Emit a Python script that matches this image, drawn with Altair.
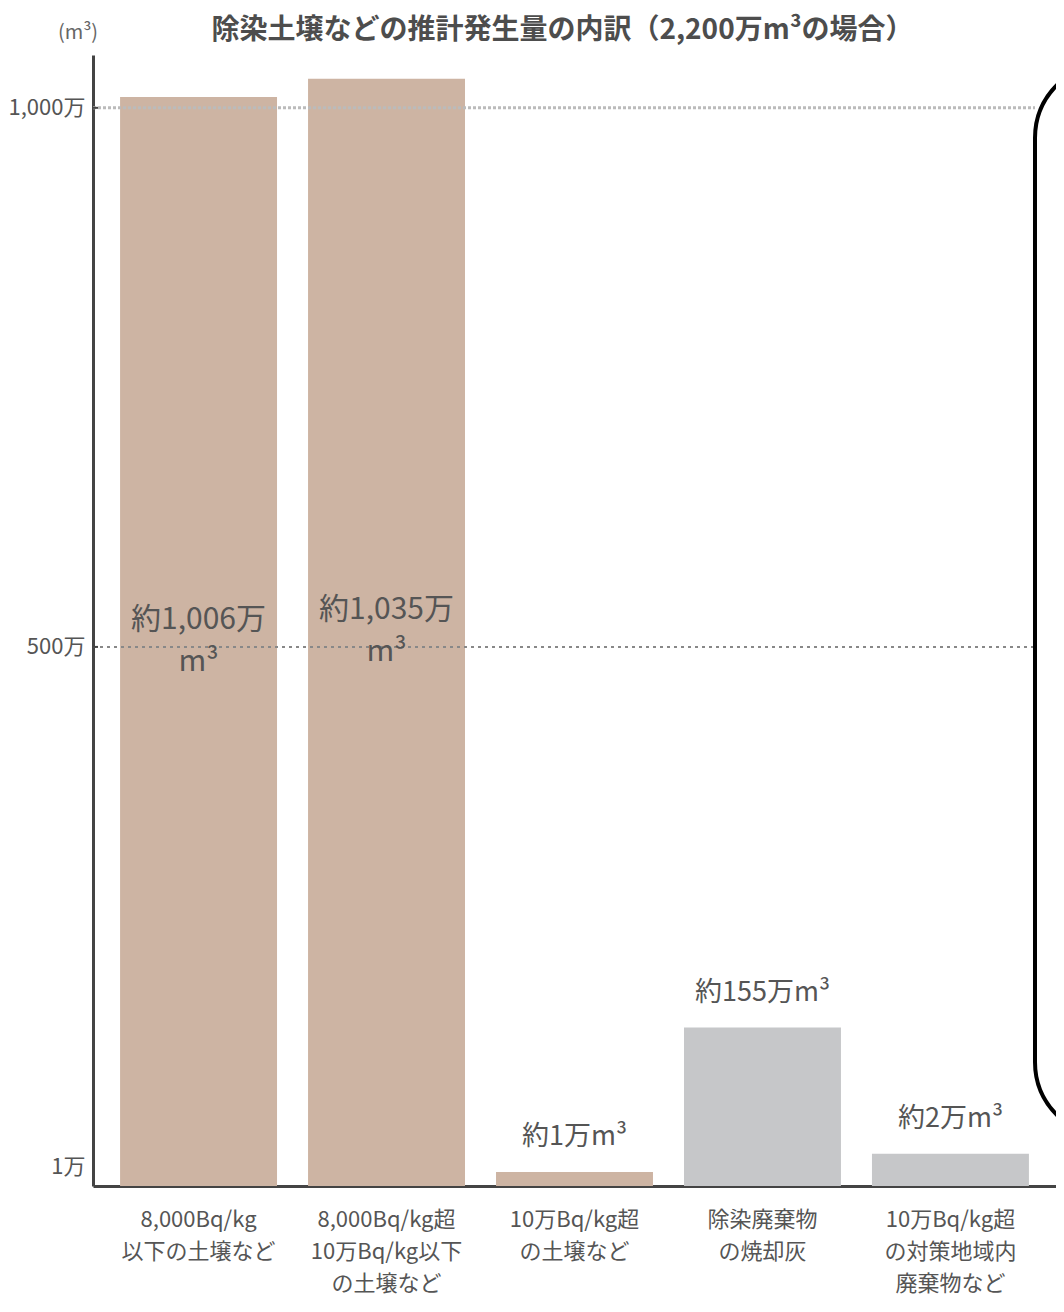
import altair as alt
import pandas as pd

# ---- data ----
categories = [
    "8,000Bq/kg|以下の土壌など",
    "8,000Bq/kg超|10万Bq/kg以下|の土壌など",
    "10万Bq/kg超|の土壌など",
    "除染廃棄物|の焼却灰",
    "10万Bq/kg超|の対策地域内|廃棄物など",
]
# drawn bar heights (万m³, on the chart's scale)
bar_values = [1010, 1027, 13, 147, 30]
value_labels = ["約1,006万|m³", "約1,035万|m³", "約1万m³", "約155万m³", "約2万m³"]
label_places = ["inside", "inside", "above", "above", "above"]
groups = ["土壌", "土壌", "土壌", "廃棄物", "廃棄物"]
group_names = ["土壌", "廃棄物"]
group_colors = ["#CDB4A3", "#C6C7C9"]

tick_values = [18, 500, 1000]
tick_labels = ["1万", "500万", "1,000万"]
grid_dark = [500]
grid_light = [1000]
unit_label = ["(m³)"]

FONT = "Noto Sans CJK JP"
W, H = 963, 1131
YMAX = 1049

df = pd.DataFrame({
    "category": categories,
    "value": bar_values,
    "label": value_labels,
    "place": label_places,
    "group": groups,
})

label_expr = ""
for v, t in zip(tick_values, tick_labels):
    label_expr += f"datum.value == {v} ? '{t}' : "
label_expr += "''"

yscale = alt.Scale(domain=[0, YMAX], nice=False, zero=True)
xscale = alt.Scale(paddingInner=0.165, paddingOuter=0.144)

x_main = alt.X(
    "category:N", sort=categories, scale=xscale,
    axis=alt.Axis(
        title=None, labelAngle=0, ticks=False,
        labelExpr="split(datum.label, '|')",
        labelFontSize=22, labelLineHeight=32, labelPadding=23,
        labelColor="#555555", domainColor="#444444", domainWidth=3,
        labelFont=FONT, labelBaseline="top",
    ),
)
x_plain = alt.X("category:N", sort=categories, scale=xscale)

y_main = alt.Y(
    "value:Q", scale=yscale,
    axis=alt.Axis(
        values=tick_values, labelExpr=label_expr, grid=False, ticks=False,
        domainColor="#444444", domainWidth=3, title=None,
        labelFontSize=22, labelColor="#555555", labelPadding=8, labelFont=FONT,
    ),
)

bars = alt.Chart(df).mark_bar().encode(
    x=x_main, y=y_main,
    color=alt.Color("group:N", scale=alt.Scale(domain=group_names, range=group_colors), legend=None),
)

grid_l = alt.Chart(pd.DataFrame({"value": grid_light})).mark_rule(
    color="#bbbbbb", strokeWidth=3, strokeDash=[3, 2]
).encode(y=alt.Y("value:Q", scale=yscale), x=alt.value(0), x2=alt.value(942))

grid_d = alt.Chart(pd.DataFrame({"value": grid_dark})).mark_rule(
    color="#888888", strokeWidth=2, strokeDash=[3, 4]
).encode(y=alt.Y("value:Q", scale=yscale), x=alt.value(0), x2=alt.value(942))

tick_marks = alt.Chart(pd.DataFrame({"value": grid_dark + grid_light})).mark_rule(
    color="#444444", strokeWidth=2
).encode(y=alt.Y("value:Q", scale=yscale), x=alt.value(0), x2=alt.value(5))

inside = alt.Chart(df).transform_filter(
    alt.datum.place == "inside"
).transform_calculate(mid="datum.value / 2").mark_text(
    fontSize=30, lineBreak="|", lineHeight=42, color="#555555",
    baseline="middle", align="center", font=FONT, dy=-22,
).encode(x=x_plain, y=alt.Y("mid:Q", scale=yscale), text="label:N")

above = alt.Chart(df).transform_filter(
    alt.datum.place == "above"
).mark_text(
    fontSize=27, color="#555555", baseline="middle", align="center", dy=-35, font=FONT,
).encode(x=x_plain, y=alt.Y("value:Q", scale=yscale), text="label:N")

unit = alt.Chart(pd.DataFrame({"t": unit_label})).mark_text(
    fontSize=20, color="#666666", baseline="middle", align="center", font=FONT,
).encode(x=alt.value(-15), y=alt.value(-22), text="t:N")

box = alt.Chart(pd.DataFrame({"k": [0]})).mark_rect(
    fillOpacity=0, stroke="black", strokeWidth=4, cornerRadius=75
).encode(x=alt.value(942), x2=alt.value(1150), y=alt.value(8), y2=alt.value(1082))

chart = alt.layer(bars, grid_l, grid_d, inside, above, tick_marks, unit, box).properties(
    width=W, height=H,
    autosize=alt.AutoSizeParams(type="none"),
    padding={"left": 85, "top": 47, "right": 0, "bottom": 114},
    title=alt.TitleParams(
        text="除染土壌などの推計発生量の内訳（2,200万m³の場合）",
        fontSize=28, fontWeight="bold", color="#4d4d4d", font=FONT,
        anchor="middle", dx=-12, dy=22, offset=0,
    ),
).configure(font=FONT).configure_view(strokeWidth=0)

chart.save("out.html", embed_options={"renderer": "svg", "actions": False})
